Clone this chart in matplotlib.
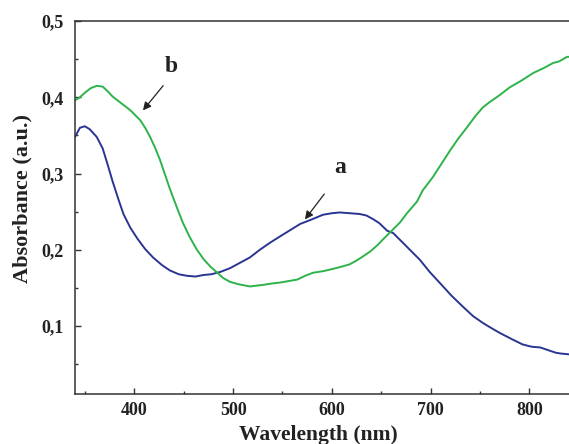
import matplotlib
matplotlib.use("Agg")
import matplotlib.pyplot as plt
from matplotlib.ticker import MultipleLocator, FuncFormatter

# Curve a (blue)
a_wl = [340, 345, 350, 355, 362, 368, 373, 378, 384, 389, 396, 403, 411, 419, 428, 436, 445, 453,
        462, 470, 478, 487, 497, 507, 517, 527, 537, 548, 558, 568, 578, 591, 600, 608, 618, 628,
        635, 642, 648, 652, 656, 662, 669, 679, 689, 699, 709, 721, 733, 743, 753, 762, 770, 782,
        793, 802, 811, 820, 827, 832, 840]
a_abs = [0.348, 0.360, 0.362, 0.358, 0.348, 0.333, 0.312, 0.290, 0.266, 0.247, 0.229, 0.215, 0.201,
         0.190, 0.180, 0.173, 0.168, 0.166, 0.165, 0.167, 0.168, 0.171, 0.176, 0.183, 0.190, 0.200,
         0.209, 0.218, 0.226, 0.234, 0.239, 0.246, 0.248, 0.249, 0.248, 0.247, 0.245, 0.240, 0.235,
         0.230, 0.225, 0.222, 0.213, 0.200, 0.187, 0.171, 0.157, 0.140, 0.125, 0.113, 0.104, 0.097,
         0.091, 0.083, 0.076, 0.073, 0.072, 0.068, 0.065, 0.064, 0.063]

# Curve b (green)
b_wl = [340, 345, 350, 356, 362, 368, 373, 378, 386, 396, 406, 411, 416, 421, 426, 431, 436, 443,
        449, 456, 463, 470, 477, 484, 490, 497, 505, 517, 530, 540, 547, 556, 565, 573, 581, 591,
        601, 610, 618, 625, 631, 639, 646, 652, 659, 669, 676, 686, 692, 702, 711, 720, 728, 737,
        745, 753, 760, 770, 780, 792, 804, 814, 824, 830, 838, 840]
b_abs = [0.396, 0.400, 0.406, 0.412, 0.415, 0.414, 0.408, 0.401, 0.393, 0.383, 0.370, 0.360, 0.348,
         0.334, 0.318, 0.299, 0.280, 0.256, 0.236, 0.217, 0.201, 0.188, 0.178, 0.170, 0.163, 0.158,
         0.155, 0.152, 0.154, 0.156, 0.157, 0.159, 0.161, 0.166, 0.170, 0.172, 0.175, 0.178, 0.181,
         0.186, 0.191, 0.198, 0.206, 0.214, 0.223, 0.236, 0.248, 0.263, 0.278, 0.295, 0.313, 0.331,
         0.346, 0.361, 0.375, 0.387, 0.394, 0.403, 0.413, 0.422, 0.432, 0.438, 0.445, 0.447, 0.453,
         0.453]

plt.rcParams['font.family'] = ['Liberation Serif', 'DejaVu Serif']
plt.rcParams['font.weight'] = 'bold'

fig = plt.figure(figsize=(5.69, 4.44), dpi=100)
ax = fig.add_axes([75/569, 50/444, 494/569, 373/444])

ax.plot(a_wl, a_abs, color='#2a3592', lw=1.4)
ax.plot(b_wl, b_abs, color='#2db34a', lw=1.4)

ax.set_xlim(340, 840)
ax.set_ylim(0.011, 0.5)
ax.xaxis.set_major_locator(MultipleLocator(100))
ax.xaxis.set_minor_locator(MultipleLocator(50))
ax.yaxis.set_major_locator(MultipleLocator(0.1))
ax.yaxis.set_minor_locator(MultipleLocator(0.05))
ax.yaxis.set_major_formatter(FuncFormatter(lambda v, p: ("%.1f" % v).replace('.', ',')))

for s in ['left', 'bottom', 'top']:
    ax.spines[s].set_linewidth(1.1)
    ax.spines[s].set_color('#333333')
ax.spines['right'].set_visible(False)

ax.tick_params(which='both', direction='in', top=False, right=False, colors='#333333',
               labelcolor='#222222', labelsize=13, width=1.0)
ax.tick_params(which='major', length=4.5)
ax.tick_params(which='minor', length=2.5)
ax.tick_params(axis='y', pad=8)
ax.tick_params(axis='x', pad=6)
for lab in ax.get_xticklabels() + ax.get_yticklabels():
    lab.set_fontweight('bold')

ax.set_xlabel('Wavelength (nm)', fontsize=15.5, fontweight='bold', color='#222222')
ax.set_ylabel('Absorbance (a.u.)', fontsize=16, fontweight='bold', color='#222222')
ax.xaxis.label.set_va('center')
ax.yaxis.label.set_va('center')
ax.xaxis.set_label_coords(0.492, -0.11)
ax.yaxis.set_label_coords(-0.107, 0.525)

ax.annotate('', xy=(571, 0.237), xytext=(594, 0.276),
            arrowprops=dict(arrowstyle='-|>', color='#222222', lw=0.9, mutation_scale=12))
ax.text(608, 0.308, 'a', fontsize=17, fontweight='bold', ha='center', va='center', color='#222222')

ax.annotate('', xy=(407, 0.380), xytext=(431, 0.418),
            arrowprops=dict(arrowstyle='-|>', color='#222222', lw=0.9, mutation_scale=12))
ax.text(437, 0.440, 'b', fontsize=17, fontweight='bold', ha='center', va='center', color='#222222')

fig.savefig('out.png', dpi=100)
